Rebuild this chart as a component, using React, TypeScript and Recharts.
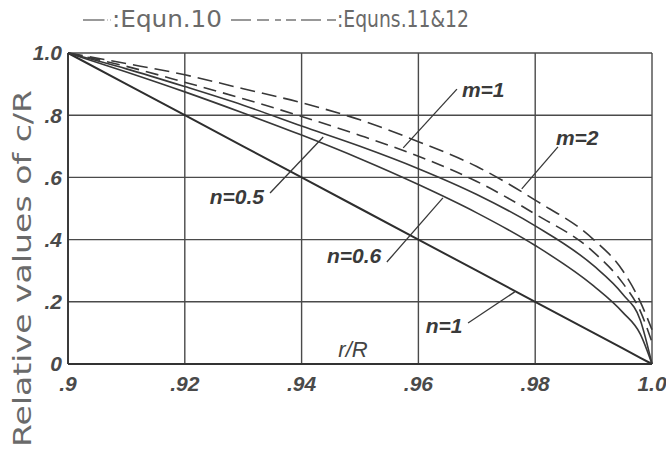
import React from 'react';
import { LineChart, Line, XAxis, YAxis, CartesianGrid, ReferenceLine, ReferenceDot } from 'recharts';

const rValues = [0.9, 0.91, 0.92, 0.93, 0.94, 0.95, 0.96, 0.97, 0.98, 0.99, 0.995, 0.998, 1.0];
// Equn. 10 (solid)
const equn10N1 = [1, 0.9, 0.8, 0.7, 0.6, 0.5, 0.4, 0.3, 0.2, 0.1, 0.05, 0.02, 0];
const equn10N06 = [1, 0.939, 0.875, 0.807, 0.736, 0.66, 0.577, 0.486, 0.381, 0.251, 0.166, 0.096, 0];
const equn10N05 = [1, 0.949, 0.892, 0.832, 0.765, 0.7, 0.628, 0.545, 0.444, 0.316, 0.224, 0.141, 0];
// Equns. 11 & 12 (dashed)
const equn11M1 = [1, 0.957, 0.906, 0.853, 0.796, 0.735, 0.668, 0.587, 0.482, 0.36, 0.26, 0.17, 0.07];
const equn11M2 = [1, 0.966, 0.93, 0.885, 0.84, 0.785, 0.715, 0.635, 0.527, 0.4, 0.3, 0.2, 0.11];

const xTicks = [0.9, 0.92, 0.94, 0.96, 0.98, 1.0];
const xTickLabels = ['.9', '.92', '.94', '.96', '.98', '1.0'];
const yTicks = [0, 0.2, 0.4, 0.6, 0.8, 1.0];
const yTickLabels = ['0', '.2', '.4', '.6', '.8', '1.0'];

// curve labels with their leader lines, in data units (r/R, c/R)
const curveLabels = ['m=1', 'm=2', 'n=0.5', 'n=0.6', 'n=1'];
const labelAt = [[0.9711, 0.881], [0.9872, 0.727], [0.9289, 0.537], [0.949, 0.35], [0.9644, 0.125]];
const leaderFrom = [[0.9666, 0.884], [0.9839, 0.698], [0.9346, 0.55], [0.9546, 0.328], [0.9685, 0.132]];
const leaderTo = [[0.9574, 0.695], [0.9777, 0.563], [0.9437, 0.73], [0.9642, 0.534], [0.9765, 0.232]];

const chartData = rValues.map((r, i) => ({
  r,
  n1: equn10N1[i],
  n06: equn10N06[i],
  n05: equn10N05[i],
  m1: equn11M1[i],
  m2: equn11M2[i],
}));

const ink = '#383838';
const tickStyle = {
  fill: '#4a4a4a',
  fontSize: 21,
  fontStyle: 'italic',
  fontWeight: 'bold',
  fontFamily: '"Liberation Sans", Arial, sans-serif',
};

const renderYTitle = (props: any) => {
  const { viewBox } = props;
  const cx = viewBox.x + 22;
  const cy = viewBox.y + viewBox.height / 2 + 60;
  return (
    <text
      x={cx}
      y={cy}
      transform={`rotate(-90 ${cx} ${cy})`}
      textAnchor="middle"
      dominantBaseline="central"
      fill="#6a6a6a"
      fontSize={25}
      fontFamily='"DejaVu Sans", sans-serif'
      textLength={357}
      lengthAdjust="spacingAndGlyphs"
    >
      Relative values of c/R
    </text>
  );
};

const renderXTitle = (props: any) => {
  const { viewBox } = props;
  return (
    <text
      x={viewBox.x + viewBox.width / 2 - 7}
      y={viewBox.y - 7}
      textAnchor="middle"
      fill="#444"
      fontSize={22}
      fontStyle="italic"
      fontFamily='"Liberation Sans", Arial, sans-serif'
    >
      r/R
    </text>
  );
};

function Header() {
  return (
    <svg width={666} height={40} style={{ position: 'absolute', left: 0, top: 0 }}>
      <line x1={83} y1={20} x2={104} y2={20} stroke="#777" strokeWidth={1.5} />
      <line x1={104} y1={20} x2={111} y2={20} stroke="#999" strokeWidth={1.2} strokeDasharray="1 2" />
      <text x={112} y={27} fill="#6a6a6a" fontSize={23} fontFamily='"DejaVu Sans", sans-serif'
        textLength={110} lengthAdjust="spacingAndGlyphs">
        :Equn.10
      </text>
      <line x1={231} y1={20} x2={336} y2={20} stroke="#777" strokeWidth={1.5} strokeDasharray="20 6 12 6 6 5 10 5" />
      <text x={337} y={27} fill="#6a6a6a" fontSize={23} fontFamily='"DejaVu Sans", sans-serif'
        textLength={132} lengthAdjust="spacingAndGlyphs">
        :Equns.11&amp;12
      </text>
    </svg>
  );
}

export default function App() {
  return (
    <div style={{ position: 'absolute', left: 0, top: 0, width: 666, height: 455, background: '#fff' }}>
      <LineChart
        width={666}
        height={455}
        data={chartData}
        margin={{ top: 53, right: 14, bottom: 61, left: 0 }}
      >
        <CartesianGrid stroke="#4a4a4a" strokeWidth={1.4} />
        <XAxis
          dataKey="r"
          type="number"
          domain={[0.9, 1.0]}
          ticks={xTicks}
          tickFormatter={(_v: number, i: number) => xTickLabels[i]}
          tick={tickStyle}
          tickLine={false}
          tickMargin={6}
          height={30}
          stroke="#333"
          strokeWidth={1.8}
          label={renderXTitle}
        />
        <YAxis
          type="number"
          domain={[0, 1]}
          ticks={yTicks}
          tickFormatter={(_v: number, i: number) => yTickLabels[i]}
          tick={tickStyle}
          tickLine={false}
          tickMargin={0}
          width={68}
          stroke="#333"
          strokeWidth={1.8}
          label={renderYTitle}
        />
        <Line type="linear" dataKey="n1" stroke="#2e2e2e" strokeWidth={2} dot={false} isAnimationActive={false} />
        <Line type="monotone" dataKey="n06" stroke={ink} strokeWidth={1.6} dot={false} isAnimationActive={false} />
        <Line type="monotone" dataKey="n05" stroke={ink} strokeWidth={1.6} dot={false} isAnimationActive={false} />
        <Line type="monotone" dataKey="m1" stroke={ink} strokeWidth={1.6} strokeDasharray="13 7" dot={false} isAnimationActive={false} />
        <Line type="monotone" dataKey="m2" stroke={ink} strokeWidth={1.6} strokeDasharray="15 7" dot={false} isAnimationActive={false} />
        {curveLabels.map((name, i) => (
          <ReferenceLine
            key={`lead-${name}`}
            segment={[
              { x: leaderFrom[i][0], y: leaderFrom[i][1] },
              { x: leaderTo[i][0], y: leaderTo[i][1] },
            ]}
            stroke={ink}
            strokeWidth={1.3}
          />
        ))}
        {curveLabels.map((name, i) => (
          <ReferenceDot
            key={`lab-${name}`}
            x={labelAt[i][0]}
            y={labelAt[i][1]}
            r={0}
            fill="none"
            stroke="none"
            label={{ value: name, position: 'center', ...tickStyle, fill: '#3a3a3a', fontSize: 21 }}
          />
        ))}
      </LineChart>
      <Header />
    </div>
  );
}
